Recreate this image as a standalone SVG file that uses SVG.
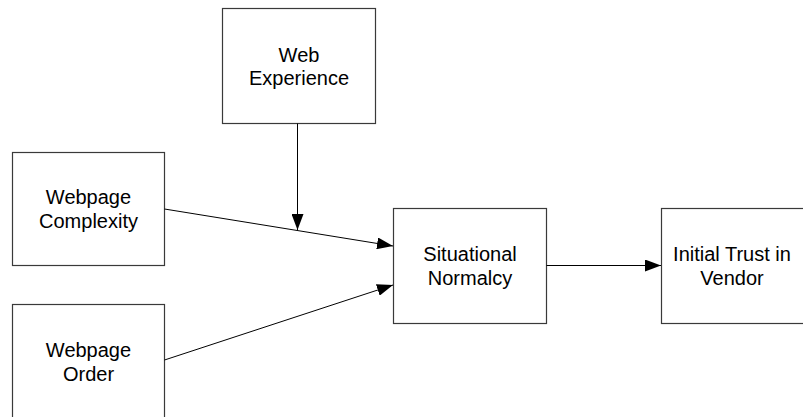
<svg xmlns="http://www.w3.org/2000/svg" width="803" height="417" viewBox="0 0 803 417">
<style>
.box{fill:#fff;stroke:#3a3a3a;stroke-width:1.2}
.lbl{font-family:"Liberation Sans",Arial,sans-serif;font-size:20px;fill:#000;text-anchor:middle}
.edge{fill:none;stroke:#000;stroke-width:1;marker-end:url(#ah)}
</style>
<defs>
<marker id="ah" markerUnits="userSpaceOnUse" markerWidth="16" markerHeight="12" refX="16" refY="6" orient="auto">
<path d="M0,0 L16,6 L0,12 z" fill="#000"/>
</marker>
</defs>
<rect width="803" height="417" fill="#fff"/>
<g id="web-experience">
<rect class="box" x="222.5" y="8.5" width="153" height="115"/>
<text class="lbl" x="299" y="62">Web</text>
<text class="lbl" x="299" y="85">Experience</text>
</g>
<g id="webpage-complexity">
<rect class="box" x="12.5" y="152.5" width="152" height="113"/>
<text class="lbl" x="88.5" y="204">Webpage</text>
<text class="lbl" x="88.5" y="228">Complexity</text>
</g>
<g id="webpage-order">
<rect class="box" x="12.5" y="304.5" width="152" height="120"/>
<text class="lbl" x="88.5" y="357">Webpage</text>
<text class="lbl" x="88.5" y="381">Order</text>
</g>
<g id="situational-normalcy">
<rect class="box" x="393.5" y="208.5" width="153" height="115"/>
<text class="lbl" x="470" y="261">Situational</text>
<text class="lbl" x="470" y="285">Normalcy</text>
</g>
<g id="initial-trust">
<rect class="box" x="661.5" y="208.5" width="150" height="115"/>
<text class="lbl" x="732" y="261">Initial Trust in</text>
<text class="lbl" x="732" y="285">Vendor</text>
</g>
<g id="connectors">
<line class="edge" x1="164.5" y1="209" x2="393" y2="246"/>
<line class="edge" x1="164.5" y1="360" x2="393" y2="285"/>
<line class="edge" x1="297.5" y1="123.5" x2="297.5" y2="230"/>
<line class="edge" x1="546.5" y1="265.5" x2="661" y2="265.5"/>
</g>
</svg>
